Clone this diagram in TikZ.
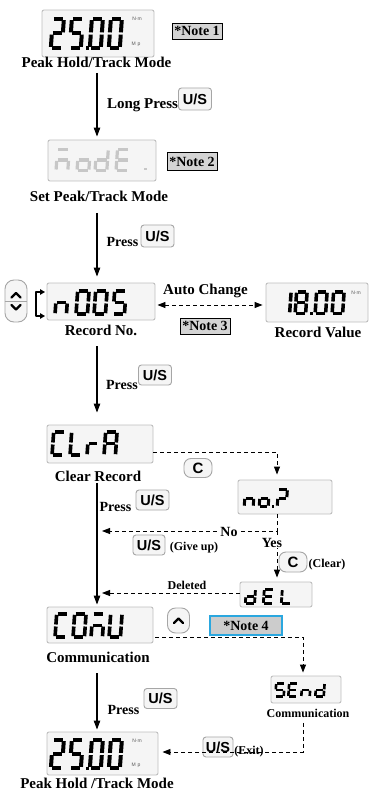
\documentclass[tikz,border=0pt]{standalone}
\usepackage{fontspec}
\setmainfont{Liberation Serif}
\newfontfamily\btnfont{Liberation Sans}
\usetikzlibrary{arrows.meta,calc}
\definecolor{noteblue}{HTML}{2AA7DF}
\newcommand\segdrawA{\draw[line width=\sgl pt] ({\sxa+\sgg},\sya) -- ({\sxb-\sgg},\sya);}
\newcommand\segdrawB{\draw[line width=\sgl pt] (\sxb,{\sya+\sgg}) -- (\sxb,{\sym-\sgg});}
\newcommand\segdrawC{\draw[line width=\sgl pt] (\sxb,{\sym+\sgg}) -- (\sxb,{\syb-\sgg});}
\newcommand\segdrawD{\draw[line width=\sgl pt] ({\sxa+\sgg},\syb) -- ({\sxb-\sgg},\syb);}
\newcommand\segdrawE{\draw[line width=\sgl pt] (\sxa,{\sym+\sgg}) -- (\sxa,{\syb-\sgg});}
\newcommand\segdrawF{\draw[line width=\sgl pt] (\sxa,{\sya+\sgg}) -- (\sxa,{\sym-\sgg});}
\newcommand\segdrawG{\draw[line width=\sgl pt] ({\sxa+\sgg},\sym) -- ({\sxb-\sgg},\sym);}
\newcommand\sevseg[6]{%
 \begin{scope}[shift={(#1,#2)}, xslant=0.07]
  \pgfmathsetmacro\sgl{#5}%
  \pgfmathsetmacro\sxa{#5/2}\pgfmathsetmacro\sxb{#3-#5/2}%
  \pgfmathsetmacro\sya{#5/2}\pgfmathsetmacro\sym{#4/2}\pgfmathsetmacro\syb{#4-#5/2}%
  \pgfmathsetmacro\sgg{0.28*#5}%
  \foreach \s in {#6}{\csname segdraw\s\endcsname}%
 \end{scope}}
\begin{document}
\begin{tikzpicture}[x=1pt,y=-1pt,
 disp/.style={draw=black!25, fill=black!4, rounded corners=2pt, line width=0.9pt, inner sep=0pt},
 lab/.style={font=\fontsize{15}{15}\selectfont\bfseries, inner sep=0.5pt},
 plab/.style={font=\fontsize{14}{14}\selectfont\bfseries, inner sep=0.5pt},
 slab/.style={font=\fontsize{12}{12}\selectfont\bfseries, inner sep=0.5pt},
 note/.style={draw=black, fill=black!17, line width=0.8pt, font=\fontsize{14}{14}\selectfont\bfseries, inner sep=0pt, minimum height=16pt, minimum width=50pt},
 btn/.style={draw=black!35, fill=black!4, rounded corners=3pt, line width=0.9pt, font=\btnfont\bfseries\fontsize{14.5}{14.5}\selectfont, minimum width=33pt, minimum height=22pt, inner sep=0pt},
 cbtn/.style={btn, rounded corners=7pt, minimum width=28pt, minimum height=19pt, font=\btnfont\bfseries\fontsize{15}{15}\selectfont},
 unit/.style={font=\btnfont\fontsize{5}{5}\selectfont, text=black!65, inner sep=0pt},
 arr/.style={line width=1.1pt, -{Triangle[length=9pt,width=6.5pt]}},
 darr/.style={line width=0.9pt, dash pattern=on 4pt off 3pt, -{Triangle[length=8pt,width=6pt]}},
 dboth/.style={line width=0.9pt, dash pattern=on 4pt off 3pt, {Triangle[length=8pt,width=6pt]}-{Triangle[length=8pt,width=6pt]}},
 chev/.style={line width=2.2pt, line cap=round, line join=round}
]
\fill[white] (0,0) rectangle (373,791);
\useasboundingbox (0,0) rectangle (373,791);
\coordinate (ax) at (97,0);

% ---------- displays ----------
\node[disp, minimum width=112pt, minimum height=47pt] (d1) at (98,33.5) {};
\node[disp, minimum width=108pt, minimum height=41pt] (d2) at (102,160.5) {};
\node[disp, minimum width=108pt, minimum height=37pt] (d3) at (101,301.5) {};
\node[disp, minimum width=102pt, minimum height=39pt] (d4) at (317,302.5) {};
\node[disp, minimum width=106pt, minimum height=38pt] (d5) at (100,444) {};
\node[disp, minimum width=94pt, minimum height=34pt] (d6) at (285,497) {};
\node[disp, minimum width=72pt, minimum height=25pt] (d7) at (276,594.5) {};
\node[disp, minimum width=106pt, minimum height=36pt] (d8) at (100,625) {};
\node[disp, minimum width=70pt, minimum height=27pt] (d9) at (306,689.5) {};
\node[disp, minimum width=111pt, minimum height=43pt] (d10) at (102.5,753.5) {};

% ---------- digits ----------
\sevseg{51}{17}{15}{33}{4}{A,B,G,E,D}
\sevseg{70}{17}{15}{33}{4}{A,F,G,C,D}
\fill (85.5,46.5) rectangle ++(3.5,3.5);
\sevseg{90}{17}{15}{33}{4}{A,B,C,D,E,F}
\sevseg{109}{17}{15}{33}{4}{A,B,C,D,E,F}
\node[unit] (u1) at (137,19) {N·m};
\node[unit] (u2) at (136,44) {M\,\,p};

\begin{scope}[black!22]
\sevseg{56}{148}{15}{24}{3.2}{A,G,C,E}
\sevseg{77}{148}{15}{24}{3.2}{C,D,E,G}
\sevseg{95}{148}{15}{24}{3.2}{B,C,D,E,G}
\sevseg{116}{148}{15}{24}{3.2}{A,D,E,F,G}
\fill (144,168) rectangle ++(2.5,2.5);
\end{scope}

\sevseg{55}{289}{15}{27}{3.6}{C,E,G}
\sevseg{76}{289}{15}{27}{3.6}{A,B,C,D,E,F}
\sevseg{94}{289}{15}{27}{3.6}{A,B,C,D,E,F}
\sevseg{113}{289}{15}{27}{3.6}{A,F,G,C,D}

\sevseg{279}{290}{14}{25}{3.5}{B,C}
\sevseg{295}{290}{14}{25}{3.5}{A,B,C,D,E,F,G}
\fill (309.5,311.5) rectangle ++(3,3);
\sevseg{315}{290}{14}{25}{3.5}{A,B,C,D,E,F}
\sevseg{332}{290}{14}{25}{3.5}{A,B,C,D,E,F}
\node[unit] (u3) at (356,293) {N·m};

\sevseg{52}{430}{15}{27}{3.6}{A,D,E,F}
\sevseg{70}{430}{15}{27}{3.6}{D,E,F}
\sevseg{87}{430}{14}{27}{3.6}{E,G}
\sevseg{104}{430}{15}{27}{3.6}{A,B,C,E,F,G}

\sevseg{244}{488}{12}{20}{3}{C,E,G}
\sevseg{259}{488}{12}{20}{3}{C,D,E,G}
\fill (271.5,505) rectangle ++(2.5,2.5);
\sevseg{277}{488}{12}{20}{3}{A,B,G,E}

\sevseg{245}{588}{12}{17}{2.8}{B,C,D,E,G}
\sevseg{263}{588}{12}{17}{2.8}{A,D,E,F,G}
\sevseg{281}{588}{12}{17}{2.8}{D,E,F}

\sevseg{55}{612}{15}{27}{3.6}{A,D,E,F}
\sevseg{73}{612}{15}{27}{3.6}{A,B,C,D,E,F}
\sevseg{91}{612}{15}{27}{3.6}{A,G,C,E}
\sevseg{109}{612}{15}{27}{3.6}{B,C,D,E,F}

\sevseg{275}{682}{11}{16}{2.6}{A,F,G,C,D}
\sevseg{288}{682}{11}{16}{2.6}{A,D,E,F,G}
\sevseg{301}{682}{11}{16}{2.6}{C,E,G}
\sevseg{315}{682}{11}{16}{2.6}{B,C,D,E,G}

\sevseg{51}{738}{15}{32}{4}{A,B,G,E,D}
\sevseg{70}{738}{15}{32}{4}{A,F,G,C,D}
\fill (85.5,766.5) rectangle ++(3.5,3.5);
\sevseg{90}{738}{15}{32}{4}{A,B,C,D,E,F}
\sevseg{109}{738}{15}{32}{4}{A,B,C,D,E,F}
\node[unit] (u4) at (137,741) {N·m};
\node[unit] (u5) at (136,765) {M\,\,p};

% ---------- notes ----------
\node[note] (n1) at (197,31) {*Note 1};
\node[note, minimum height=18pt] (n2) at (192,161.5) {*Note 2};
\node[note] (n3) at (205,326) {*Note 3};
\node[note, draw=noteblue, line width=1.3pt, fill=black!20, minimum width=72pt, minimum height=19pt] (n4) at (246,625.5) {*Note 4};

% ---------- labels ----------
\node[lab] (l1) at (96.5,62) {Peak Hold/Track Mode};
\node[lab] (l2) at (99,196) {Set Peak/Track Mode};
\node[lab] (l3) at (101,330) {Record No.};
\node[lab] (l4) at (318,332) {Record Value};
\node[lab] (l5) at (98,476) {Clear Record};
\node[lab] (l8) at (98,657) {Communication};
\node[slab] (l9) at (308,713) {Communication};
\node[lab] (l10) at (97,783) {Peak Hold /Track Mode};
\node[lab] (ac) at (205.5,291) {Auto Change};
\node[lab] (lp) at (142.5,105) {Long Press};
\node[plab] (p2) at (122.5,242) {Press};
\node[plab] (p3) at (122,385) {Press};
\node[plab] (p5) at (115.5,507) {Press};
\node[plab] (p8) at (123.5,710) {Press};
\node[slab] (gu) at (194,548) {(Give up)};
\node[slab] (cl) at (327,565) {(Clear)};
\node[slab] (de) at (187,585) {Deleted};
\node[slab] (ex) at (249,752) {(Exit)};

% ---------- buttons ----------
\node[btn] (b1) at (195,99) {U/S};
\node[btn] (b2) at (157.5,236) {U/S};
\node[btn, minimum height=20pt] (b3) at (155,375) {U/S};
\node[btn, minimum height=20pt] (b5) at (152.5,500) {U/S};
\node[btn, minimum width=32pt, minimum height=20pt] (b6) at (149,545) {U/S};
\node[btn, minimum height=20pt] (b8) at (160.5,698.5) {U/S};
\node[btn, minimum width=30pt, minimum height=20pt] (b9) at (218,747) {U/S};
\node[cbtn] (c1) at (198,468) {C};
\node[cbtn, minimum height=20pt] (c2) at (293,562) {C};

\node[draw=black!35, fill=black!4, rounded corners=9pt, line width=0.9pt, minimum width=22pt, minimum height=42pt, inner sep=0pt] (ud) at (16,301) {};
\draw[black!35, line width=0.9pt] (ud.west) -- (ud.east);
\draw[chev] (11.5,297.5) -- (16,293) -- (20.5,297.5);
\draw[chev] (11.5,305) -- (16,309.5) -- (20.5,305);
\draw[line width=1.8pt, line join=round, {Triangle[length=5pt,width=5.5pt]}-{Triangle[length=5pt,width=5.5pt]}] (45,292) -- (36,292) -- (36,316) -- (45,316);

\node[draw=black!35, fill=black!4, rounded corners=8pt, line width=0.9pt, minimum width=22pt, minimum height=25pt, inner sep=0pt] (ub) at (178.5,620.5) {};
\draw[chev] (174,623) -- (178.5,618.5) -- (183,623);

% ---------- solid connectors ----------
\draw[arr, shorten <=5pt, shorten >=3pt] (l1.south -| ax) -- (d2.north -| ax);
\draw[arr, shorten <=11pt, shorten >=6pt] (l2.south -| ax) -- (d3.north -| ax);
\draw[arr, shorten <=10pt, shorten >=12pt] (l3.south -| ax) -- (d5.north -| ax);
\draw[arr, shorten <=1pt, shorten >=2pt] (l5.south -| ax) -- (d8.north -| ax);
\draw[arr, shorten <=10pt, shorten >=2pt] (l8.south -| ax) -- (d10.north -| ax);

% ---------- dashed connectors ----------
\draw[dboth, shorten <=2pt, shorten >=3pt] ([yshift=-3.5pt]d3.east) -- ([yshift=-3.5pt]d3.east -| d4.west);
\draw[darr, shorten >=5pt] ([yshift=-8pt]d5.east) -| ([xshift=-8pt]d6.north);
\coordinate (jn) at (277,531);
\coordinate (jl) at (102,531);
\draw[darr] ([xshift=-8pt]d6.south) -- (jn) -- (jl);
\draw[darr, shorten >=4pt] (jn) -- (jn |- d7.north);
\draw[darr, shorten >=5pt] ([yshift=1.5pt]d7.west) -- ([yshift=1.5pt]d7.west -| ax);
\draw[darr, shorten <=2pt, shorten >=3pt] ([yshift=-12pt]d8.east) -| ([xshift=-3pt]d9.north);
\draw[darr, shorten <=5pt, shorten >=4pt] ([xshift=-5pt]l9.south) |- ([yshift=1.5pt]d10.east);

\node[plab, fill=white, inner sep=1pt] (no) at (229,532) {No};
\node[plab, fill=white, inner sep=0.5pt] (yes) at (272,543) {Yes};
\end{tikzpicture}
\end{document}
